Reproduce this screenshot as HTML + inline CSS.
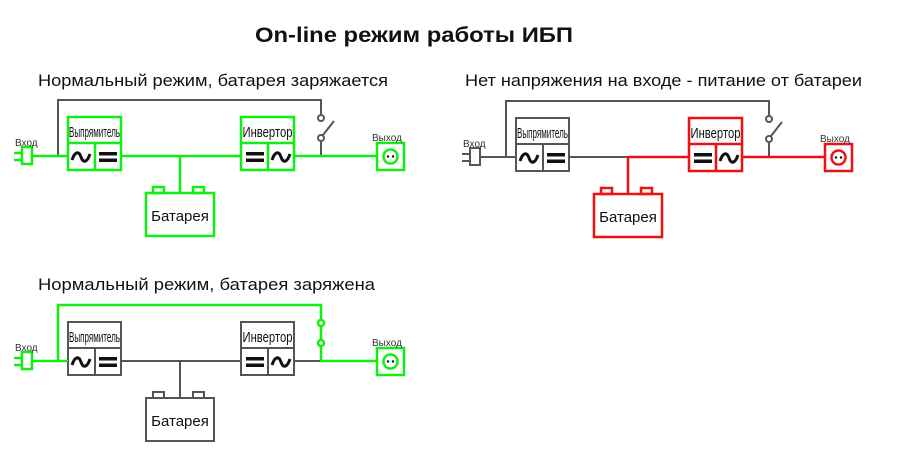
<!DOCTYPE html>
<html><head><meta charset="utf-8"><style>
html,body{margin:0;padding:0;background:#fff;width:900px;height:458px;overflow:hidden}
svg{display:block}
text{font-family:"Liberation Sans","DejaVu Sans",sans-serif}
</style></head><body>
<svg width="900" height="458" viewBox="0 0 900 458" xmlns="http://www.w3.org/2000/svg">
<defs>
<g id="sine"><path d="M-9,3 C-6,-6 -2,-6 0,0 C2,6 6,6 9,-3" fill="none" stroke="#111" stroke-width="3"/></g>
<g id="eq"><rect x="-9" y="-5" width="18" height="3.5" fill="#111"/><rect x="-9" y="1.5" width="18" height="3.5" fill="#111"/></g>
<g id="dots"><circle cx="-2.5" cy="0" r="1.2" fill="#111"/><circle cx="2.5" cy="0" r="1.2" fill="#111"/></g>
</defs>
<text x="414" y="42" font-size="21" font-weight="bold" text-anchor="middle" textLength="318" lengthAdjust="spacingAndGlyphs" fill="#111">On-line режим работы ИБП</text>
<text x="38" y="86" font-size="17" textLength="350" lengthAdjust="spacingAndGlyphs" fill="#111">Нормальный режим, батарея заряжается</text>
<text x="465" y="86" font-size="17" textLength="397" lengthAdjust="spacingAndGlyphs" fill="#111">Нет напряжения на входе - питание от батареи</text>
<text x="38" y="290" font-size="17" textLength="337" lengthAdjust="spacingAndGlyphs" fill="#111">Нормальный режим, батарея заряжена</text>

<!-- Diagram 1 -->
<g fill="none" stroke-width="2">
<polyline points="58,156 58,100 321,100 321,114" stroke="#555"/>
<line x1="321" y1="142" x2="321" y2="156" stroke="#555"/>
<line x1="323" y1="135" x2="334" y2="121" stroke="#555"/>
<circle cx="321" cy="118" r="3" stroke="#555" fill="#fff"/>
<circle cx="321" cy="138" r="3" stroke="#555" fill="#fff"/>
<g stroke="#11ee11" stroke-width="2.5">
<line x1="32" y1="156" x2="68" y2="156"/>
<line x1="121" y1="156" x2="241" y2="156"/>
<line x1="294" y1="156" x2="377" y2="156"/>
<line x1="180" y1="156" x2="180" y2="193"/>
<rect x="22" y="147" width="10" height="17"/>
<line x1="14" y1="153" x2="22" y2="153"/><line x1="14" y1="160" x2="22" y2="160"/>
<rect x="68" y="117" width="53" height="53"/><line x1="68" y1="143" x2="121" y2="143"/><line x1="95" y1="143" x2="95" y2="170"/>
<rect x="241" y="117" width="53" height="53"/><line x1="241" y1="143" x2="294" y2="143"/><line x1="268" y1="143" x2="268" y2="170"/>
<rect x="377" y="143" width="27" height="27"/><circle cx="390.5" cy="156.5" r="7"/>
<rect x="146" y="193" width="68" height="43"/>
<rect x="153" y="187" width="11" height="6"/><rect x="193" y="187" width="11" height="6"/>
</g></g>
<g>
<use href="#dots" x="390.5" y="156.5"/>
<use href="#sine" x="81" y="157"/><use href="#eq" x="108" y="157"/>
<use href="#eq" x="255" y="157"/><use href="#sine" x="281" y="157"/>
<text x="15" y="146" font-size="10" fill="#333">Вход</text>
<text x="372" y="141" font-size="10" fill="#333">Выход</text>
<text x="94.5" y="137" font-size="15" text-anchor="middle" textLength="51" lengthAdjust="spacingAndGlyphs" fill="#111">Выпрямитель</text>
<text x="267.5" y="137" font-size="15" text-anchor="middle" textLength="50" lengthAdjust="spacingAndGlyphs" fill="#111">Инвертор</text>
<text x="180" y="221" font-size="15" text-anchor="middle" fill="#111">Батарея</text>
</g>

<!-- Diagram 2 -->
<g transform="translate(448,1)">
<g fill="none" stroke-width="2">
<polyline points="58,156 58,100 321,100 321,114" stroke="#555"/>
<line x1="321" y1="142" x2="321" y2="156" stroke="#555"/>
<line x1="323" y1="135" x2="334" y2="121" stroke="#555"/>
<circle cx="321" cy="118" r="3" stroke="#555" fill="#fff"/>
<circle cx="321" cy="138" r="3" stroke="#555" fill="#fff"/>
<g stroke="#555">
<line x1="32" y1="156" x2="68" y2="156"/>
<line x1="121" y1="156" x2="180" y2="156"/>
<rect x="22" y="147" width="10" height="17"/>
<line x1="14" y1="153" x2="22" y2="153"/><line x1="14" y1="160" x2="22" y2="160"/>
<rect x="68" y="117" width="53" height="53"/><line x1="68" y1="143" x2="121" y2="143"/><line x1="95" y1="143" x2="95" y2="170"/>
</g>
<g stroke="#ee1111" stroke-width="2.5">
<line x1="180" y1="156" x2="241" y2="156"/>
<line x1="294" y1="156" x2="377" y2="156"/>
<line x1="180" y1="156" x2="180" y2="193"/>
<rect x="241" y="117" width="53" height="53"/><line x1="241" y1="143" x2="294" y2="143"/><line x1="268" y1="143" x2="268" y2="170"/>
<rect x="377" y="143" width="27" height="27"/><circle cx="390.5" cy="156.5" r="7"/>
<rect x="146" y="193" width="68" height="43"/>
<rect x="153" y="187" width="11" height="6"/><rect x="193" y="187" width="11" height="6"/>
</g></g>
<use href="#dots" x="390.5" y="156.5"/>
<use href="#sine" x="81" y="157"/><use href="#eq" x="108" y="157"/>
<use href="#eq" x="255" y="157"/><use href="#sine" x="281" y="157"/>
<text x="15" y="146" font-size="10" fill="#333">Вход</text>
<text x="372" y="141" font-size="10" fill="#333">Выход</text>
<text x="94.5" y="137" font-size="15" text-anchor="middle" textLength="51" lengthAdjust="spacingAndGlyphs" fill="#111">Выпрямитель</text>
<text x="267.5" y="137" font-size="15" text-anchor="middle" textLength="50" lengthAdjust="spacingAndGlyphs" fill="#111">Инвертор</text>
<text x="180" y="221" font-size="15" text-anchor="middle" fill="#111">Батарея</text>
</g>

<!-- Diagram 3 -->
<g transform="translate(0,205)">
<g fill="none" stroke-width="2">
<g stroke="#555">
<line x1="121" y1="156" x2="241" y2="156"/>
<line x1="294" y1="156" x2="321" y2="156"/>
<line x1="180" y1="156" x2="180" y2="193"/>
<rect x="68" y="117" width="53" height="53"/><line x1="68" y1="143" x2="121" y2="143"/><line x1="95" y1="143" x2="95" y2="170"/>
<rect x="241" y="117" width="53" height="53"/><line x1="241" y1="143" x2="294" y2="143"/><line x1="268" y1="143" x2="268" y2="170"/>
<rect x="146" y="193" width="68" height="43"/>
<rect x="153" y="187" width="11" height="6"/><rect x="193" y="187" width="11" height="6"/>
</g>
<g stroke="#11ee11" stroke-width="2.5">
<line x1="32" y1="156" x2="68" y2="156"/>
<polyline points="58,156 58,100 321,100 321,156 377,156"/>
<rect x="22" y="147" width="10" height="17"/>
<line x1="14" y1="153" x2="22" y2="153"/><line x1="14" y1="160" x2="22" y2="160"/>
<circle cx="321" cy="118" r="3" fill="#fff"/>
<circle cx="321" cy="138" r="3" fill="#fff"/>
<rect x="377" y="143" width="27" height="27"/><circle cx="390.5" cy="156.5" r="7"/>
</g></g>
<use href="#dots" x="390.5" y="156.5"/>
<use href="#sine" x="81" y="157"/><use href="#eq" x="108" y="157"/>
<use href="#eq" x="255" y="157"/><use href="#sine" x="281" y="157"/>
<text x="15" y="146" font-size="10" fill="#333">Вход</text>
<text x="372" y="141" font-size="10" fill="#333">Выход</text>
<text x="94.5" y="137" font-size="15" text-anchor="middle" textLength="51" lengthAdjust="spacingAndGlyphs" fill="#111">Выпрямитель</text>
<text x="267.5" y="137" font-size="15" text-anchor="middle" textLength="50" lengthAdjust="spacingAndGlyphs" fill="#111">Инвертор</text>
<text x="180" y="221" font-size="15" text-anchor="middle" fill="#111">Батарея</text>
</g>
</svg>
</body></html>
